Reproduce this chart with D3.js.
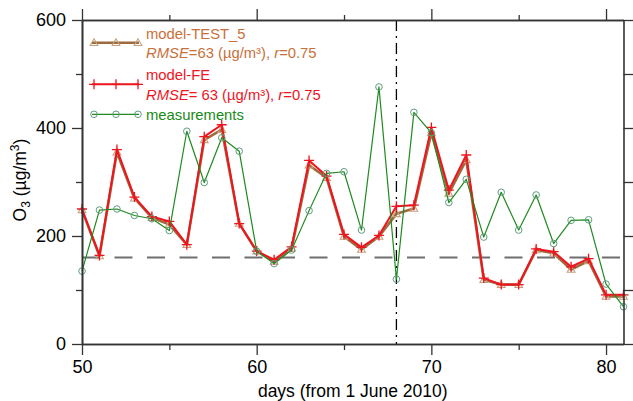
<!DOCTYPE html>
<html>
<head>
<meta charset="utf-8">
<script src="https://cdn.jsdelivr.net/npm/d3@7"></script>
<style>
  html, body { margin: 0; padding: 0; background: #fff; }
  svg { display: block; font-family: "Liberation Sans", Arial, sans-serif; }
</style>
</head>
<body>
<svg id="chart" width="633" height="401"></svg>
<script>
// Daily O3 (µg/m3), days counted from 1 June 2010
const days = [50, 51, 52, 53, 54, 55, 56, 57, 58, 59, 60, 61, 62, 63, 64, 65,
              66, 67, 68, 69, 70, 71, 72, 73, 74, 75, 76, 77, 78, 79, 80, 81];
const modelTest5 = [248, 163, 355, 270, 234, 221, 184, 378, 397, 223, 172, 153, 177, 331, 308, 199,
                    175, 199, 241, 251, 391, 279, 341, 119, 110, 110, 174, 168, 138, 154, 88, 88];
const modelFE = [250, 164, 360, 272, 236, 227, 184, 384, 406, 223, 172, 156, 180, 340, 311, 203,
                 179, 201, 255, 257, 401, 285, 350, 122, 110, 110, 176, 171, 143, 158, 91, 91];
const measurements = [135, 248, 250, 238, 232, 210, 394, 299, 382, 357, 172, 149, 174, 247, 316, 319,
                      211, 476, 120, 429, 391, 262, 305, 198, 281, 211, 276, 186, 229, 230, 111, 69];

const xMajorTicks = [50, 60, 70, 80];
const xMinorTicks = [55, 65, 75];
const yMajorTicks = [0, 200, 400, 600];
const yMinorTicks = [100, 300, 500];
const thresholdValue = 160;
const markerDay = 68;

const legendItems = [
  { name: "model-TEST_5", rmse: "63", gap: "", r: "0.75" },
  { name: "model-FE", rmse: "63", gap: " ", r: "0.75" },
  { name: "measurements" }
];

const x = d3.scaleLinear().domain([50, 81]).range([82, 623.5]);
const y = d3.scaleLinear().domain([0, 600]).range([344, 20]);

const svg = d3.select("#chart");
const axisColor = "#333";

// Threshold and event lines
svg.append("line")
  .attr("x1", x(50)).attr("x2", x(81))
  .attr("y1", y(thresholdValue)).attr("y2", y(thresholdValue))
  .attr("stroke", "#6e6e6e").attr("stroke-width", 2)
  .attr("stroke-dasharray", "18,14.5");

svg.append("line")
  .attr("x1", x(markerDay)).attr("x2", x(markerDay))
  .attr("y1", y(600)).attr("y2", y(0))
  .attr("stroke", "#000").attr("stroke-width", 1.3)
  .attr("stroke-dasharray", "11,5,2,5");

// Series
const series = [
  { values: modelTest5, line: "#9e6a3e", width: 2.6, marker: "tri", mcolor: "#c4a27e" },
  { values: modelFE, line: "#f0141e", width: 2, marker: "plus", mcolor: "#f0141e" },
  { values: measurements, line: "#1f8a1f", width: 1.2, marker: "circle", mcolor: "#5e9e80" }
];

const lineGen = d3.line().x(d => x(d[0])).y(d => y(d[1]));

function drawMarker(g, type, color, cx, cy) {
  if (type === "tri") {
    g.append("path")
      .attr("d", d3.symbol().type(d3.symbolTriangle).size(26)())
      .attr("transform", `translate(${cx},${cy + 0.5})`)
      .attr("fill", "none").attr("stroke", color).attr("stroke-width", 1.1);
  } else if (type === "plus") {
    g.append("path")
      .attr("d", `M${cx - 5},${cy}H${cx + 5}M${cx},${cy - 5}V${cy + 5}`)
      .attr("stroke", color).attr("stroke-width", 1.3).attr("fill", "none");
  } else {
    g.append("circle")
      .attr("cx", cx).attr("cy", cy).attr("r", 3.3)
      .attr("fill", "none").attr("stroke", color).attr("stroke-width", 1);
  }
}

series.forEach(s => {
  const pts = days.map((d, i) => [d, s.values[i]]);
  const g = svg.append("g");
  g.append("path").datum(pts)
    .attr("d", lineGen)
    .attr("fill", "none").attr("stroke", s.line)
    .attr("stroke-width", s.width).attr("stroke-linejoin", "round");
  pts.forEach(p => drawMarker(g, s.marker, s.mcolor, x(p[0]), y(p[1])));
});

// Frame and ticks
const frame = svg.append("g");
const xBottom = d3.axisBottom(x).tickValues(xMajorTicks).tickSize(11).tickSizeOuter(0).tickPadding(5);
const xBottomMinor = d3.axisBottom(x).tickValues(xMinorTicks).tickSize(6).tickSizeOuter(0).tickFormat("");
const xTop = d3.axisTop(x).tickValues(xMajorTicks).tickSize(11).tickSizeOuter(0).tickFormat("");
const xTopMinor = d3.axisTop(x).tickValues(xMinorTicks).tickSize(5).tickSizeOuter(0).tickFormat("");
const yLeft = d3.axisLeft(y).tickValues(yMajorTicks).tickSize(10).tickSizeOuter(0).tickPadding(6);
const yLeftMinor = d3.axisLeft(y).tickValues(yMinorTicks).tickSize(6).tickSizeOuter(0).tickFormat("");
const yRight = d3.axisRight(y).tickValues(yMajorTicks.concat(yMinorTicks)).tickSize(10).tickSizeOuter(0).tickFormat("");

function styleAxis(g) {
  g.selectAll("path.domain").attr("stroke", axisColor).attr("stroke-width", 1.6);
  g.selectAll(".tick line").attr("stroke", axisColor).attr("stroke-width", 1.3);
  g.selectAll(".tick text").attr("fill", "#000").attr("font-size", 18)
    .attr("font-family", "'Liberation Sans', Arial, sans-serif");
}

frame.append("g").attr("transform", `translate(0,${y(0)})`).call(xBottom).call(styleAxis);
frame.append("g").attr("transform", `translate(0,${y(0)})`).call(xBottomMinor).call(styleAxis);
frame.append("g").attr("transform", `translate(0,${y(600)})`).call(xTop).call(styleAxis);
frame.append("g").attr("transform", `translate(0,${y(600)})`).call(xTopMinor).call(styleAxis);
frame.append("g").attr("transform", `translate(${x(50)},0)`).call(yLeft).call(styleAxis);
frame.append("g").attr("transform", `translate(${x(50)},0)`).call(yLeftMinor).call(styleAxis);
frame.append("g").attr("transform", `translate(${x(81)},0)`).call(yRight).call(styleAxis);

// Axis titles
svg.append("text")
  .attr("x", (x(50) + x(81)) / 2).attr("y", 397)
  .attr("text-anchor", "middle").attr("font-size", 17.5).attr("fill", "#000")
  .text("days (from 1 June 2010)");

const yt = svg.append("text")
  .attr("transform", `translate(26,${(y(0) + y(600)) / 2 - 2}) rotate(-90)`)
  .attr("text-anchor", "middle").attr("font-size", 17.5).attr("fill", "#000");
yt.append("tspan").text("O");
yt.append("tspan").attr("font-size", 12).attr("dy", 4).text("3");
yt.append("tspan").attr("dy", -4).text(" (µg/m");
yt.append("tspan").attr("font-size", 12).attr("dy", -7).text("3");
yt.append("tspan").attr("dy", 7).text(")");

// Legend
const legend = svg.append("g");
const legendRows = [
  { sampleY: 42.7, textY: [38.5, 57.5], text: "#c8703a" },
  { sampleY: 84.3, textY: [79.5, 99.5], text: "#f0141e" },
  { sampleY: 114.3, textY: [119.5], text: "#168a16" }
];
legendItems.forEach((item, i) => {
  const s = series[i], row = legendRows[i];
  legend.append("line")
    .attr("x1", 92).attr("x2", 139).attr("y1", row.sampleY).attr("y2", row.sampleY)
    .attr("stroke", s.line).attr("stroke-width", s.width);
  [94, 116, 138].forEach(cx => drawMarker(legend, s.marker, s.mcolor, cx, row.sampleY));
  legend.append("text").attr("x", 146).attr("y", row.textY[0])
    .attr("font-size", 14.8).attr("fill", row.text).text(item.name);
  if (item.rmse) {
    const t = legend.append("text").attr("x", 146).attr("y", row.textY[1])
      .attr("font-size", 14.8).attr("fill", row.text);
    t.append("tspan").attr("font-style", "italic").text("RMSE");
    t.append("tspan").text(`=${item.gap}${item.rmse} (µg/m³), `);
    t.append("tspan").attr("font-style", "italic").text("r");
    t.append("tspan").text(`=${item.r}`);
  }
});
</script>
</body>
</html>
